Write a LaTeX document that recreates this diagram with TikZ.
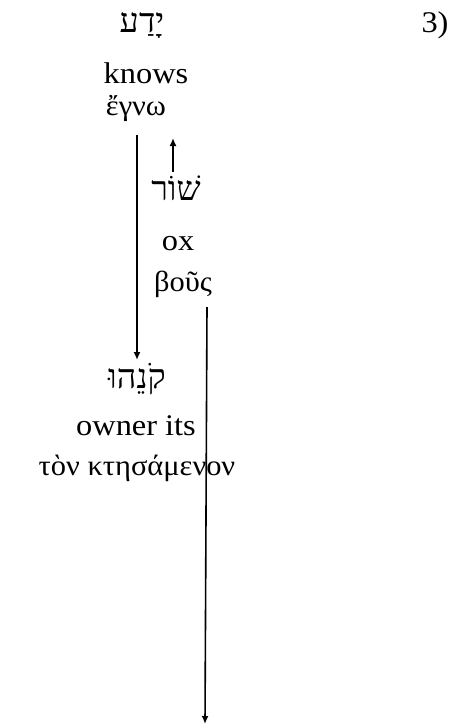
\documentclass[tikz,border=0pt]{standalone}
\usepackage{fontspec}
\setmainfont[FakeStretch=1.08]{Liberation Serif}
\newfontfamily\hebfont[Script=Hebrew]{Liberation Serif}
\newfontfamily\grkfont[Script=Greek,FakeStretch=1.05]{Liberation Serif}
\TeXXeTstate=1
\usetikzlibrary{arrows.meta}

\begin{document}
\begin{tikzpicture}[x=1pt,y=-1pt]
\tikzstyle{every node} = [anchor=base, inner sep=1pt]
\tikzstyle{eng} = [font=\fontsize{30}{36}\selectfont]
\tikzstyle{heb} = [font=\hebfont\fontsize{34}{40}\selectfont]
\tikzstyle{grk} = [font=\grkfont\fontsize{29}{34}\selectfont]
\tikzstyle{arr} = [-{Latex[length=8pt,width=7pt]}, line width=1.6pt]
\useasboundingbox (0,0) rectangle (454,724);

\node [heb] (yada) at (142, 32) {\beginR יָדַע\endR};
\node [eng] (num) at (435, 32) {3)};
\node [eng] (knows) at (146, 83) {knows};
\node [grk] (egno) at (136, 115) {ἔγνω};

\node [heb] (shor) at (176, 200) {\beginR שׁוֹר\endR};
\node [eng] (ox) at (178, 250) {ox};
\node [grk] (bous) at (183, 291) {βοῦς};

\node [heb] (qoneh) at (137, 388) {\beginR קֹנֵהוּ\endR};
\node [eng] (owner) at (136, 435) {owner its};
\node [grk] (ton) at (137, 475) {τὸν κτησάμενον};

% arrow ends
\coordinate (egnofoot) at (137, 135);
\coordinate (qonehtop) at (137, 360);
\coordinate (shorhead) at (173, 172);
\coordinate (shortip) at (173, 138);
\coordinate (bousfoot) at (207, 307);
\coordinate (bot) at (205, 724);

\draw [arr] (egnofoot) -- (qonehtop);
\draw [arr] (shorhead) -- (shortip);
\draw [arr] (bousfoot) -- (bot);
\end{tikzpicture}
\end{document}
